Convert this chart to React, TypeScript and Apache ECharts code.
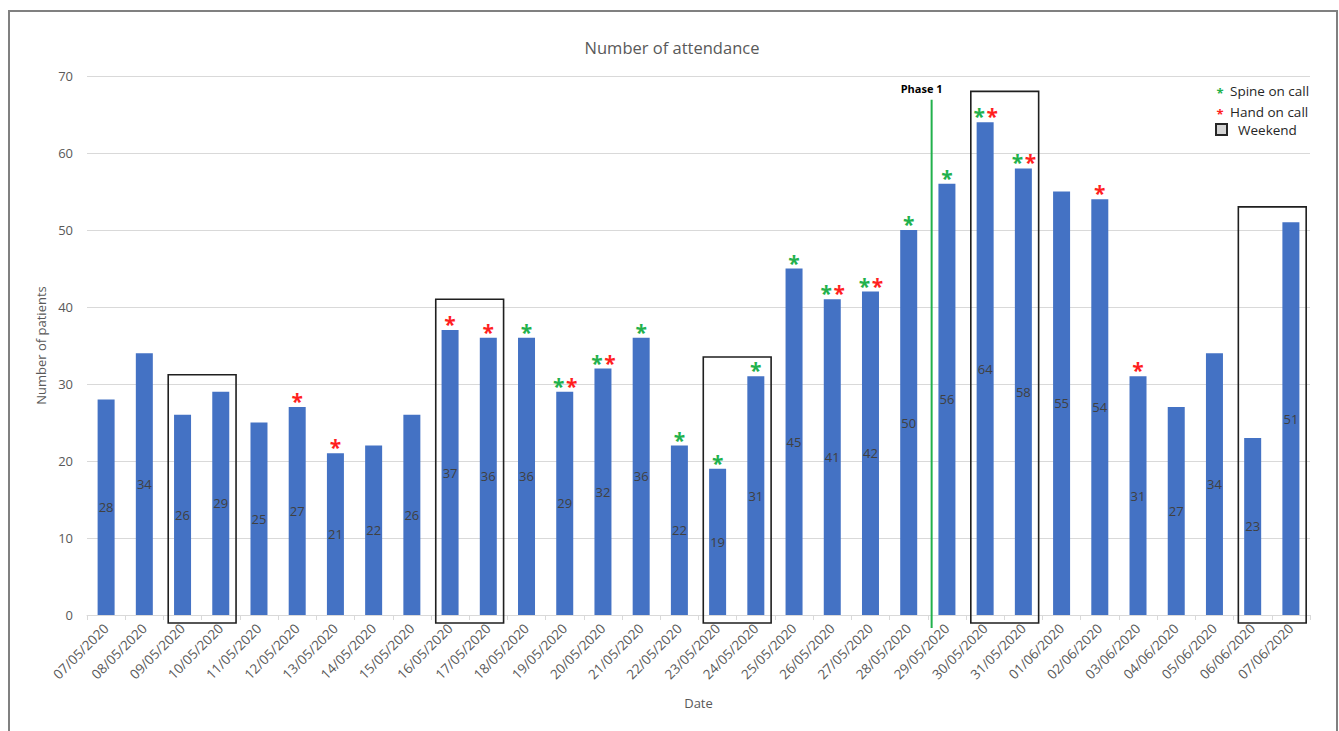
import React, { useEffect, useRef } from "react";
import * as echarts from "echarts";

// Daily attendance, 07/05/2020 – 07/06/2020
const dates = [
  "07/05/2020", "08/05/2020", "09/05/2020", "10/05/2020", "11/05/2020", "12/05/2020",
  "13/05/2020", "14/05/2020", "15/05/2020", "16/05/2020", "17/05/2020", "18/05/2020",
  "19/05/2020", "20/05/2020", "21/05/2020", "22/05/2020", "23/05/2020", "24/05/2020",
  "25/05/2020", "26/05/2020", "27/05/2020", "28/05/2020", "29/05/2020", "30/05/2020",
  "31/05/2020", "01/06/2020", "02/06/2020", "03/06/2020", "04/06/2020", "05/06/2020",
  "06/06/2020", "07/06/2020",
];
const attendance = [
  28, 34, 26, 29, 25, 27, 21, 22, 26, 37, 36, 36, 29, 32, 36, 22,
  19, 31, 45, 41, 42, 50, 56, 64, 58, 55, 54, 31, 27, 34, 23, 51,
];

// Days with the spine / hand team on call
const spineOnCall = [
  "18/05/2020", "19/05/2020", "20/05/2020", "21/05/2020", "22/05/2020", "23/05/2020",
  "24/05/2020", "25/05/2020", "26/05/2020", "27/05/2020", "28/05/2020", "29/05/2020",
  "30/05/2020", "31/05/2020",
];
const handOnCall = [
  "12/05/2020", "13/05/2020", "16/05/2020", "17/05/2020", "19/05/2020", "20/05/2020",
  "26/05/2020", "27/05/2020", "30/05/2020", "31/05/2020", "02/06/2020", "03/06/2020",
];

// Weekends: first day, last day, height of the outline (patients)
const weekendFrom = ["09/05/2020", "16/05/2020", "23/05/2020", "30/05/2020", "06/06/2020"];
const weekendTo = ["10/05/2020", "17/05/2020", "24/05/2020", "31/05/2020", "07/06/2020"];
const weekendTop = [31.2, 41, 33.5, 68, 53];

// Phase 1 begins with this day
const phaseName = "Phase 1";
const phaseStart = "29/05/2020";

const yMin = 0;
const yMax = 70;
const yStep = 10;

const FONT = "'Open Sans', 'Noto Sans', sans-serif";
const BLUE = "#4472c4";
const GREEN = "#22b14c";
const RED = "#ff1f1f";
const GREY_TEXT = "#595959";

export default function App() {
  const ref = useRef<HTMLDivElement>(null);

  useEffect(() => {
    if (!ref.current) return;
    const chart = echarts.init(ref.current, undefined, { renderer: "svg" });

    const markers = dates
      .map((d, i) => [i, attendance[i], spineOnCall.includes(d) ? 1 : 0, handOnCall.includes(d) ? 1 : 0])
      .filter((m) => m[2] || m[3]);

    const weekends = weekendFrom.map((d, i) => [dates.indexOf(d), dates.indexOf(weekendTo[i]), weekendTop[i]]);

    const star = (x: number, y: number, fill: string, size: number) => ({
      type: "text",
      x,
      y,
      style: {
        text: "*",
        fill,
        font: `bold ${size}px ${FONT}`,
        align: "center",
        textAlign: "center",
        verticalAlign: "middle",
        textVerticalAlign: "middle",
      },
    });

    chart.setOption({
      animation: false,
      textStyle: { fontFamily: FONT },
      grid: { left: 87, right: 29, top: 76, bottom: 116 },
      xAxis: {
        type: "category",
        data: dates,
        name: "Date",
        nameLocation: "middle",
        nameGap: 81,
        nameTextStyle: { color: GREY_TEXT, fontSize: 13 },
        axisLine: { lineStyle: { color: "#d9d9d9", width: 1 } },
        axisTick: { show: true, length: 5, lineStyle: { color: "#d9d9d9" } },
        axisLabel: { interval: 0, rotate: 45, color: GREY_TEXT, fontSize: 13.5, margin: 11 },
      },
      yAxis: {
        type: "value",
        min: yMin,
        max: yMax,
        interval: yStep,
        name: "Number of patients",
        nameLocation: "middle",
        nameGap: 40,
        nameTextStyle: { color: GREY_TEXT, fontSize: 13 },
        axisLine: { show: false },
        axisTick: { show: false },
        axisLabel: { color: GREY_TEXT, fontSize: 13, margin: 14 },
        splitLine: { lineStyle: { color: "#d9d9d9" } },
      },
      series: [
        {
          type: "bar",
          data: attendance,
          barWidth: 17,
          itemStyle: { color: BLUE },
          label: { show: true, position: "inside", color: "#404040", fontSize: 13 },
          z: 2,
        },
        {
          // on-call asterisks above the bars
          type: "custom",
          data: markers,
          encode: { x: 0, y: 1 },
          z: 5,
          renderItem: (params: any, api: any) => {
            const p = api.coord([api.value(0), api.value(1)]);
            const spine = api.value(2);
            const hand = api.value(3);
            const y = p[1] - 6;
            const children: any[] = [];
            if (spine && hand) {
              children.push(star(p[0] - 6, y, GREEN, 21));
              children.push(star(p[0] + 7, y, RED, 21));
            } else if (spine) {
              children.push(star(p[0], y, GREEN, 21));
            } else {
              children.push(star(p[0], y, RED, 21));
            }
            return { type: "group", children };
          },
        },
        {
          // weekend outlines
          type: "custom",
          data: weekends,
          encode: { x: [0, 1], y: 2 },
          z: 6,
          clip: false,
          renderItem: (params: any, api: any) => {
            const s = api.coord([api.value(0), api.value(2)]);
            const e = api.coord([api.value(1), 0]);
            const band = api.size([1, 0])[0];
            const x0 = s[0] - band * 0.375;
            const x1 = e[0] + band * 0.4;
            return {
              type: "rect",
              shape: { x: x0, y: s[1], width: x1 - x0, height: e[1] + 8 - s[1] },
              style: { fill: "none", stroke: "#1f1f1f", lineWidth: 1.6 },
            };
          },
        },
        {
          // start of phase 1
          type: "custom",
          data: [[dates.indexOf(phaseStart), 0]],
          encode: { x: 0, y: 1 },
          z: 6,
          clip: false,
          renderItem: (params: any, api: any) => {
            const band = api.size([1, 0])[0];
            const base = api.coord([api.value(0), 0]);
            const top = api.coord([api.value(0), 66.9]);
            const x = base[0] - band * 0.4;
            return {
              type: "group",
              children: [
                {
                  type: "line",
                  shape: { x1: x, y1: top[1], x2: x, y2: base[1] + 13 },
                  style: { stroke: GREEN, lineWidth: 2 },
                },
                {
                  type: "text",
                  x: x - 10,
                  y: top[1] - 11,
                  style: {
                    text: phaseName,
                    fill: "#000",
                    font: `bold 11px ${FONT}`,
                    align: "center",
                    textAlign: "center",
                    verticalAlign: "middle",
                    textVerticalAlign: "middle",
                  },
                },
              ],
            };
          },
        },
      ],
      graphic: [
        {
          type: "rect",
          shape: { x: 9, y: 11, width: 1328, height: 740 },
          style: { fill: "none", stroke: "#808080", lineWidth: 2 },
          silent: true,
        },
        {
          type: "text",
          x: 672,
          y: 47,
          style: {
            text: "Number of attendance",
            fill: GREY_TEXT,
            font: `16.5px ${FONT}`,
            textAlign: "center",
            textVerticalAlign: "middle",
          },
        },
        {
          type: "text",
          x: 1220,
          y: 93,
          style: { text: "*", fill: GREEN, font: `bold 13px ${FONT}`, textAlign: "center", textVerticalAlign: "middle" },
        },
        {
          type: "text",
          x: 1230,
          y: 91,
          style: { text: "Spine on call", fill: "#262626", font: `13.5px ${FONT}`, textAlign: "left", textVerticalAlign: "middle" },
        },
        {
          type: "text",
          x: 1220,
          y: 114,
          style: { text: "*", fill: RED, font: `bold 13px ${FONT}`, textAlign: "center", textVerticalAlign: "middle" },
        },
        {
          type: "text",
          x: 1230,
          y: 112,
          style: { text: "Hand on call", fill: "#262626", font: `13.5px ${FONT}`, textAlign: "left", textVerticalAlign: "middle" },
        },
        {
          type: "rect",
          shape: { x: 1216, y: 124, width: 11, height: 11 },
          style: { fill: "#d4d4d4", stroke: "#262626", lineWidth: 2 },
        },
        {
          type: "text",
          x: 1238,
          y: 130,
          style: { text: "Weekend", fill: "#262626", font: `13.5px ${FONT}`, textAlign: "left", textVerticalAlign: "middle" },
        },
      ],
    });

    return () => chart.dispose();
  }, []);

  return (
    <div
      ref={ref}
      style={{ position: "fixed", left: 0, top: 0, width: 1339, height: 731, background: "#fff" }}
    />
  );
}
